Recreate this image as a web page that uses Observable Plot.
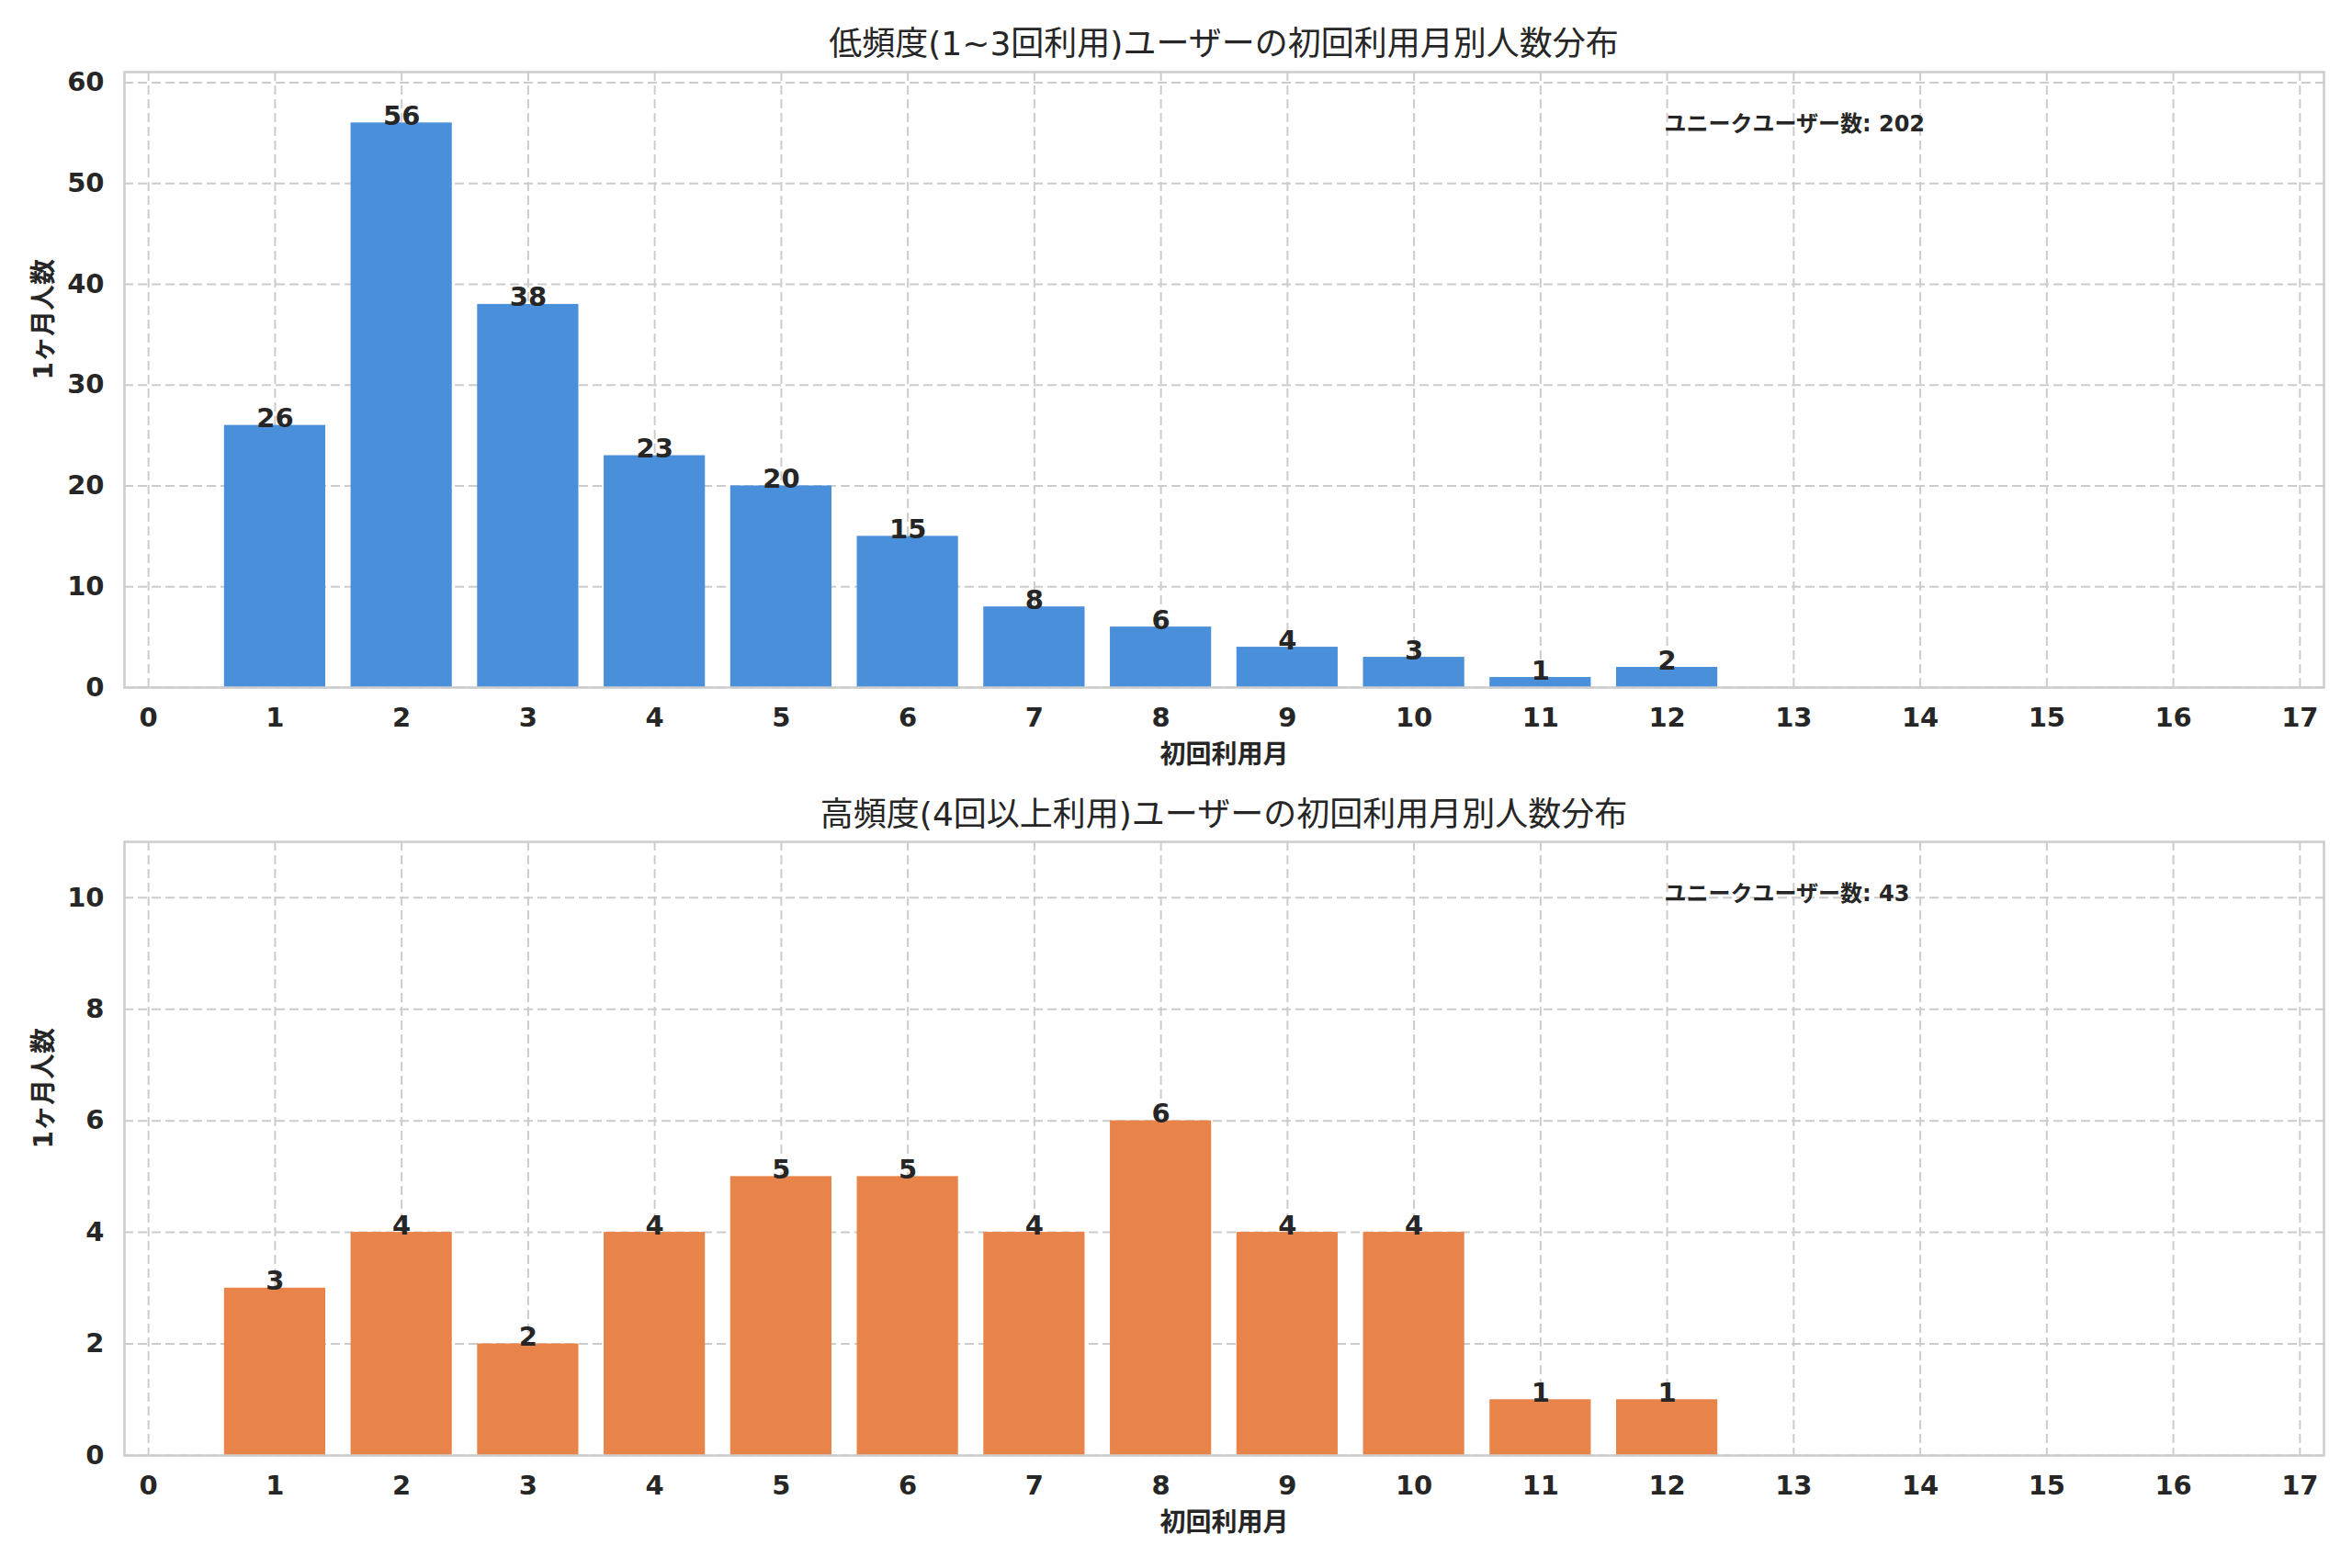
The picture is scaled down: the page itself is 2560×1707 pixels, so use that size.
<!DOCTYPE html>
<html>
<head>
<meta charset="utf-8">
<script src="https://cdn.jsdelivr.net/npm/d3@7"></script>
<script src="https://cdn.jsdelivr.net/npm/@observablehq/plot@0.6"></script>
<style>
  body { margin: 0; background: #fff; }
  #page { position: relative; width: 2560px; height: 1707px; background: #fff; overflow: hidden; }
  .title { position: absolute; left: 135px; width: 2394px; text-align: center;
           font-family: "DejaVu Sans", "Noto Sans CJK JP", sans-serif; font-size: 36px; color: #262626;
           line-height: 1; transform: translateY(-50%); }
  .chart { position: absolute; left: 0; }
</style>
</head>
<body>
<div id="page"></div>
<script>
const months = [1, 2, 3, 4, 5, 6, 7, 8, 9, 10, 11, 12];
const lightCounts = [26, 56, 38, 23, 20, 15, 8, 6, 4, 3, 1, 2];
const heavyCounts = [3, 4, 2, 4, 5, 5, 4, 6, 4, 4, 1, 1];
const xTicks = d3.range(0, 18);
const lightYTicks = [0, 10, 20, 30, 40, 50, 60];
const heavyYTicks = [0, 2, 4, 6, 8, 10];
const titles = [
  "低頻度(1~3回利用)ユーザーの初回利用月別人数分布",
  "高頻度(4回以上利用)ユーザーの初回利用月別人数分布"
];
const xLabel = "初回利用月";
const yLabel = "1ヶ月人数";
const annotLabel = "ユニークユーザー数";

const page = document.getElementById("page");
const FONT = '"DejaVu Sans", "Noto Sans CJK JP", sans-serif';
const INK = "#262626";

function makeChart({counts, color, yMax, yTicks, top, height, marginTop, marginBottom}) {
  const data = months.map((m, i) => ({month: m, count: counts[i]}));
  const total = d3.sum(counts);
  const chart = Plot.plot({
    width: 2560,
    height,
    marginLeft: 135,
    marginRight: 31,
    marginTop,
    marginBottom,
    style: {fontFamily: FONT, fontSize: "29px", fontWeight: "bold", color: INK, background: "#fff", overflow: "visible"},
    x: {domain: [-0.19, 17.19], ticks: xTicks, tickFormat: d3.format("d"), tickSize: 0, tickPadding: 22, label: null},
    y: {domain: [0, yMax], ticks: yTicks, tickFormat: d3.format("d"), tickSize: 0, tickPadding: 22, label: null},
    marks: [
      Plot.gridX(xTicks, {stroke: "#cccccc", strokeOpacity: 1, strokeWidth: 2, strokeDasharray: "10,5"}),
      Plot.gridY(yTicks, {stroke: "#cccccc", strokeOpacity: 1, strokeWidth: 2, strokeDasharray: "10,5"}),
      Plot.rectY(data, {x1: d => d.month - 0.4, x2: d => d.month + 0.4, y1: 0, y2: "count", fill: color}),
      Plot.text(data, {x: "month", y: "count", text: d => String(d.count), lineAnchor: "bottom", dy: 2,
                       fontSize: 29, fontWeight: "bold", fill: INK}),
      Plot.text([`${annotLabel}: ${total}`], {frameAnchor: "top-left", dx: 1676, dy: 47, lineAnchor: "top",
                       textAnchor: "start", fontSize: 24, fontWeight: "bold", fill: INK}),
      Plot.text([xLabel], {frameAnchor: "bottom", dy: 74, lineAnchor: "middle", fontSize: 28, fontWeight: "bold", fill: INK}),
      Plot.text([yLabel], {frameAnchor: "left", dx: -87, rotate: -90, lineAnchor: "middle", fontSize: 28, fontWeight: "bold", fill: INK}),
      Plot.frame({stroke: "#cccccc", strokeWidth: 2.5})
    ]
  });
  chart.classList.add("chart");
  chart.style.top = top + "px";
  page.appendChild(chart);
}

makeChart({counts: lightCounts, color: "#4a8fd9", yMax: 61.04, yTicks: lightYTicks,
           top: 0, height: 855, marginTop: 78, marginBottom: 107});
makeChart({counts: heavyCounts, color: "#e8844a", yMax: 11, yTicks: heavyYTicks,
           top: 855, height: 852, marginTop: 61, marginBottom: 123});

[[titles[0], 48], [titles[1], 887]].forEach(([t, y]) => {
  const d = document.createElement("div");
  d.className = "title";
  d.style.top = y + "px";
  d.textContent = t;
  page.appendChild(d);
});
</script>
</body>
</html>
